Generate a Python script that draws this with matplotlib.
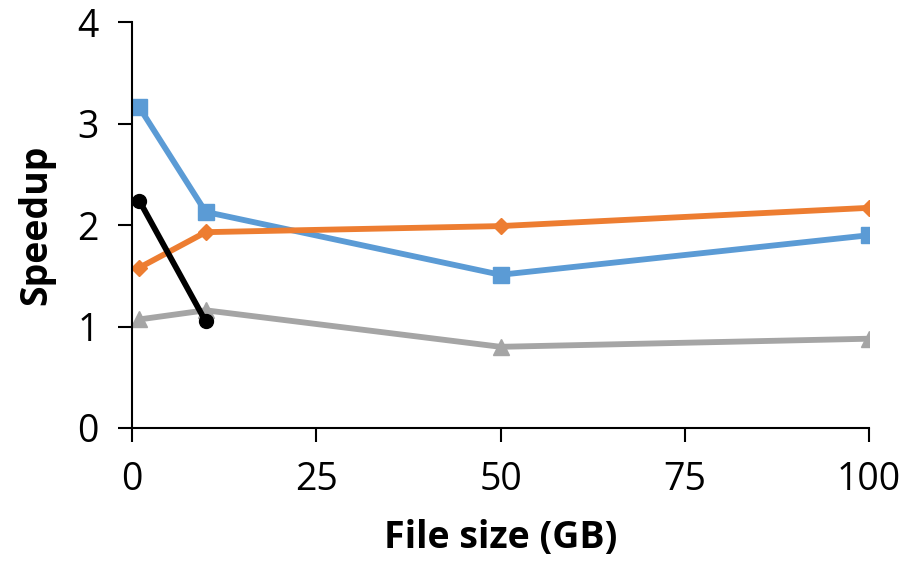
import matplotlib
matplotlib.use("Agg")
import matplotlib.pyplot as plt

plt.rcParams['font.family'] = ['Open Sans', 'DejaVu Sans']

# dados
file_size = [1, 10, 50, 100]
serie_azul = [3.16, 2.13, 1.51, 1.90]
serie_laranja = [1.58, 1.93, 1.99, 2.17]
serie_cinza = [1.07, 1.16, 0.80, 0.88]
file_size_preto = [1, 10]
serie_preta = [2.24, 1.05]

x_ticks = [0, 25, 50, 75, 100]
y_ticks = [0, 1, 2, 3, 4]

fig = plt.figure(figsize=(9.1, 5.68), dpi=100)
ax = fig.add_axes([0.145, 0.2465, 0.81, 0.7145])

ax.plot(file_size, serie_azul, color='#5B9BD5', lw=4.2, marker='s', ms=12, solid_joinstyle='round')
ax.plot(file_size, serie_laranja, color='#ED7D31', lw=4.2, marker='D', ms=8, solid_joinstyle='round')
ax.plot(file_size, serie_cinza, color='#A5A5A5', lw=4.2, marker='^', ms=11, solid_joinstyle='round')
ax.plot(file_size_preto, serie_preta, color='black', lw=4.2, marker='o', ms=10)

ax.set_xlim(0, 100)
ax.set_ylim(0, 4)
ax.set_xticks(x_ticks)
ax.set_yticks(y_ticks)

for s in ['top', 'right']:
    ax.spines[s].set_visible(False)
for s in ['left', 'bottom']:
    ax.spines[s].set_linewidth(1.5)
    ax.spines[s].set_color('black')

ax.tick_params(axis='both', direction='out', length=10, width=1.5, labelsize=27, pad=14)

ax.set_xlabel('File size (GB)', fontsize=27, fontweight='bold', labelpad=14)
ax.set_ylabel('Speedup', fontsize=27, fontweight='bold', labelpad=16)

fig.savefig('out.png', dpi=100)
